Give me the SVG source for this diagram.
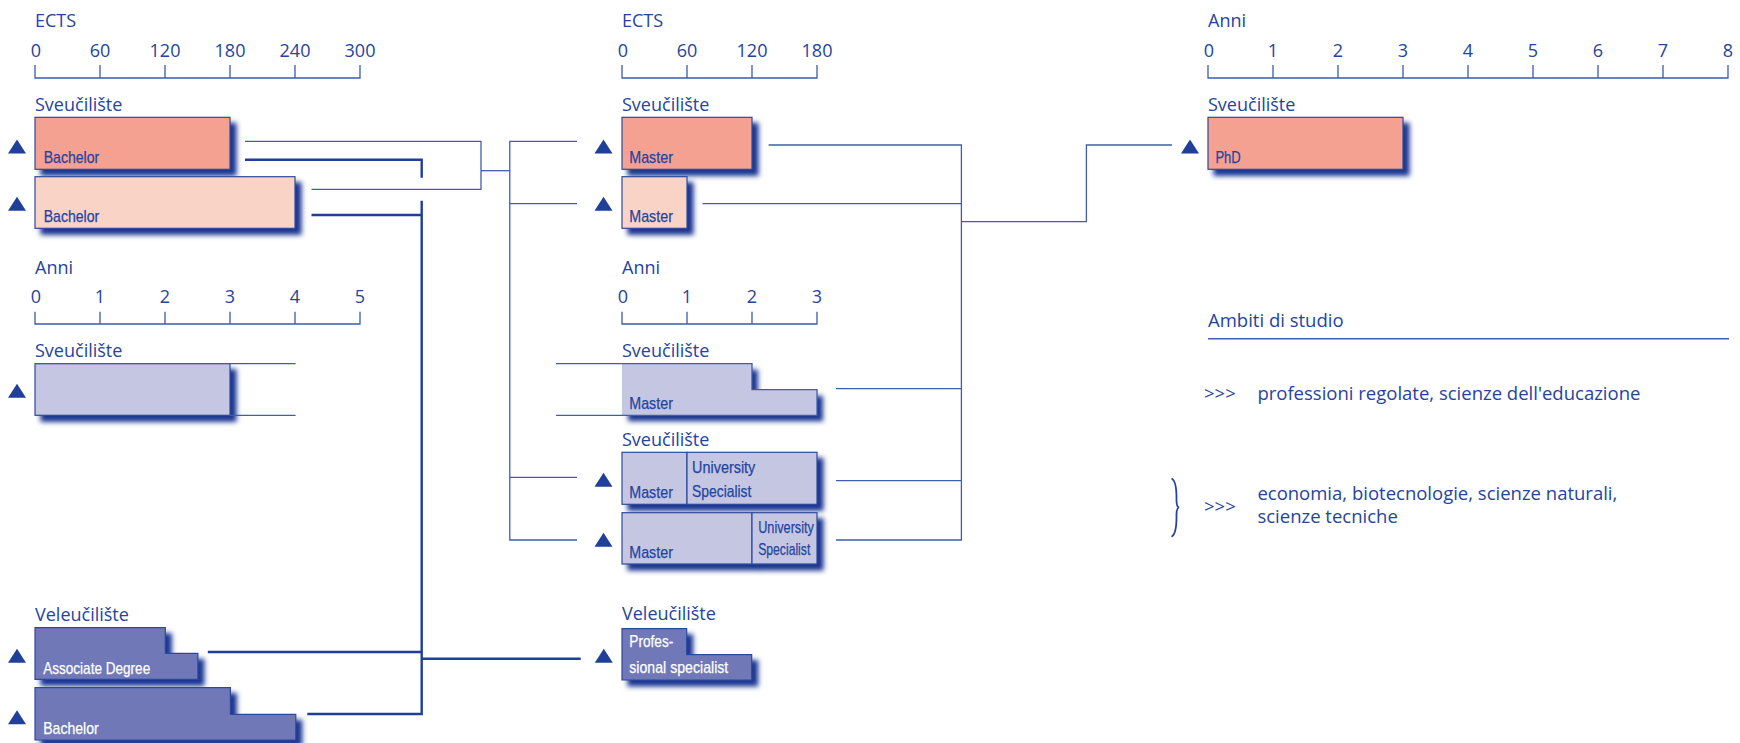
<svg xmlns="http://www.w3.org/2000/svg" width="1740" height="743" viewBox="0 0 1740 743">
<defs>
<style>
.t{font-family:"Open Sans","Liberation Sans",sans-serif;font-size:18px;fill:#2444a0}
.tk{text-anchor:middle}
.lg{font-size:18.5px}
.lb{font-family:"Liberation Sans Narrow","Liberation Sans",sans-serif;font-size:17px;fill:#2444a0;stroke:#2444a0;stroke-width:0.25}
.w{fill:#ffffff;stroke:#ffffff}
.ax{fill:none;stroke:#3a5bb0;stroke-width:1.3}
.bx{stroke:#2c4a9e;stroke-width:1.2}
.s1{fill:#f4a191}
.s2{fill:#f9d3c6}
.s3{fill:#c5c7e2}
.s4{fill:#7078b8}
.thin{fill:none;stroke:#3d5db0;stroke-width:1.3}
.thick{fill:none;stroke:#1f3f9a;stroke-width:2.4}
.tri{fill:#1f3f9a}
</style>
<filter id="sh" x="-10%" y="-20%" width="130%" height="150%">
<feOffset in="SourceAlpha" dx="6" dy="6" result="o"/>
<feGaussianBlur in="o" stdDeviation="2.5" result="b"/>
<feFlood flood-color="#1a3590"/>
<feComposite in2="b" operator="in" result="s"/>
<feMerge><feMergeNode in="s"/><feMergeNode in="SourceGraphic"/></feMerge>
</filter>
<path id="tr" d="M0 -0.5 L9 13.5 L-9 13.5 Z"/>
</defs>
<rect width="1740" height="743" fill="#ffffff"/>

<g id="axes">
<text class="t" x="35" y="27.3">ECTS</text>
<g class="t tk">
<text x="36" y="56.7">0</text><text x="100" y="56.7">60</text><text x="165" y="56.7">120</text><text x="230" y="56.7">180</text><text x="295" y="56.7">240</text><text x="360" y="56.7">300</text>
</g>
<path class="ax" d="M35 65V78H360V65M100 65V78M165 65V78M230 65V78M295 65V78"/>
<text class="t" x="35" y="274.3">Anni</text>
<g class="t tk">
<text x="36" y="302.7">0</text><text x="100" y="302.7">1</text><text x="165" y="302.7">2</text><text x="230" y="302.7">3</text><text x="295" y="302.7">4</text><text x="360" y="302.7">5</text>
</g>
<path class="ax" d="M35 311.7V324H360V311.7M100 311.7V324M165 311.7V324M230 311.7V324M295 311.7V324"/>
<text class="t" x="622" y="27.3">ECTS</text>
<g class="t tk">
<text x="623" y="56.7">0</text><text x="687" y="56.7">60</text><text x="752" y="56.7">120</text><text x="817" y="56.7">180</text>
</g>
<path class="ax" d="M622 65V78H817V65M687 65V78M752 65V78"/>
<text class="t" x="622" y="274.3">Anni</text>
<g class="t tk">
<text x="623" y="302.7">0</text><text x="687" y="302.7">1</text><text x="752" y="302.7">2</text><text x="817" y="302.7">3</text>
</g>
<path class="ax" d="M622 311.7V324H817V311.7M687 311.7V324M752 311.7V324"/>
<text class="t" x="1208" y="27.3">Anni</text>
<g class="t tk">
<text x="1209" y="56.7">0</text><text x="1273" y="56.7">1</text><text x="1338" y="56.7">2</text><text x="1403" y="56.7">3</text><text x="1468" y="56.7">4</text><text x="1533" y="56.7">5</text><text x="1598" y="56.7">6</text><text x="1663" y="56.7">7</text><text x="1728" y="56.7">8</text>
</g>
<path class="ax" d="M1208 65V78H1728V65M1273 65V78M1338 65V78M1403 65V78M1468 65V78M1533 65V78M1598 65V78M1663 65V78"/>
</g>

<g id="connectors">
<path class="thin" d="M245 141.3H481V189.3H311.5"/>
<path class="thin" d="M481 170.7H509.8"/>
<path class="thin" d="M577 141.3H509.8V540H577"/>
<path class="thin" d="M509.8 203.7H577"/>
<path class="thin" d="M509.8 477.3H577"/>
<path class="thin" d="M768.6 145H961.4V540H836"/>
<path class="thin" d="M702.5 203.7H961.4"/>
<path class="thin" d="M836 388.7H961.4"/>
<path class="thin" d="M836 480.7H961.4"/>
<path class="thin" d="M961.4 221.7H1086.4V145H1172"/>
<path class="thick" d="M245 159.7H421.7V177.7"/>
<path class="thick" d="M311.5 215H421.7"/>
<path class="thick" d="M421.7 200.7V714H307.3"/>
<path class="thick" d="M207.8 652H421.7"/>
<path class="thick" d="M421.7 658.7H580.7"/>
</g>

<g id="sv-bachelor-180">
<text class="t" x="35" y="111">Sveučilište</text>
<use href="#tr" class="tri" x="17" y="140"/>
<rect class="bx s1" x="35" y="117.3" width="195" height="52" filter="url(#sh)"/>
<text class="lb" x="43.7" y="162.7" textLength="55.5" lengthAdjust="spacingAndGlyphs">Bachelor</text>
</g>
<g id="sv-bachelor-240">
<use href="#tr" class="tri" x="17" y="197.3"/>
<rect class="bx s2" x="35" y="176.7" width="260" height="51.6" filter="url(#sh)"/>
<text class="lb" x="43.7" y="221.7" textLength="55.5" lengthAdjust="spacingAndGlyphs">Bachelor</text>
</g>
<g id="sv-integrated">
<text class="t" x="35" y="357.3">Sveučilište</text>
<use href="#tr" class="tri" x="17" y="384.3"/>
<rect class="bx s3" x="35" y="363.7" width="195" height="51.6" filter="url(#sh)"/>
<path class="thin" d="M230 363.7H295.6M230 415.3H295.6"/>
</g>
<g id="vel-associate">
<text class="t" x="35" y="620.7">Veleučilište</text>
<use href="#tr" class="tri" x="17" y="649.3"/>
<path class="bx s4" d="M35 627.7H165.3V653.3H197.9V679.3H35Z" filter="url(#sh)"/>
<text class="lb w" x="43.2" y="674" textLength="107" lengthAdjust="spacingAndGlyphs">Associate Degree</text>
</g>
<g id="vel-bachelor">
<use href="#tr" class="tri" x="17" y="710.7"/>
<path class="bx s4" d="M35 687.7H230.4V714.3H295.8V740H35Z" filter="url(#sh)"/>
<text class="lb w" x="43.2" y="734" textLength="55.5" lengthAdjust="spacingAndGlyphs">Bachelor</text>
</g>

<g id="sv-master-120">
<text class="t" x="622" y="111">Sveučilište</text>
<use href="#tr" class="tri" x="603.5" y="140"/>
<rect class="bx s1" x="622" y="117.3" width="130" height="52" filter="url(#sh)"/>
<text class="lb" x="629.3" y="162.7" textLength="43.6" lengthAdjust="spacingAndGlyphs">Master</text>
</g>
<g id="sv-master-60">
<use href="#tr" class="tri" x="603.5" y="197.3"/>
<rect class="bx s2" x="622" y="176.7" width="65" height="51.6" filter="url(#sh)"/>
<text class="lb" x="629.3" y="221.7" textLength="43.6" lengthAdjust="spacingAndGlyphs">Master</text>
</g>
<g id="sv-master-integrated">
<text class="t" x="622" y="357.3">Sveučilište</text>
<path class="s3" d="M622 363.7H752V389.7H817V415.3H622Z" filter="url(#sh)"/>
<path class="thin" d="M556 363.7H752V389.7H817V415.3H556"/>
<text class="lb" x="629.3" y="409.3" textLength="43.6" lengthAdjust="spacingAndGlyphs">Master</text>
</g>
<g id="sv-master-us-1">
<text class="t" x="622" y="445.7">Sveučilište</text>
<use href="#tr" class="tri" x="603.5" y="473.3"/>
<g filter="url(#sh)">
<rect class="bx s3" x="622" y="452.3" width="65" height="52"/>
<rect class="bx s3" x="687" y="452.3" width="130" height="52"/>
</g>
<text class="lb" x="629.3" y="498.3" textLength="43.6" lengthAdjust="spacingAndGlyphs">Master</text>
<text class="lb" x="692.1" y="473.3" textLength="63.2" lengthAdjust="spacingAndGlyphs">University</text>
<text class="lb" x="692.1" y="497.3" textLength="59.3" lengthAdjust="spacingAndGlyphs">Specialist</text>
</g>
<g id="sv-master-us-2">
<use href="#tr" class="tri" x="603.5" y="533.3"/>
<g filter="url(#sh)">
<rect class="bx s3" x="622" y="512.7" width="130" height="51.3"/>
<rect class="bx s3" x="752" y="512.7" width="65" height="51.3"/>
</g>
<text class="lb" x="629.3" y="558.3" textLength="43.6" lengthAdjust="spacingAndGlyphs">Master</text>
<text class="lb" x="758.2" y="533.3" font-size="15" textLength="55.7" lengthAdjust="spacingAndGlyphs">University</text>
<text class="lb" x="758.2" y="555" font-size="15" textLength="52.1" lengthAdjust="spacingAndGlyphs">Specialist</text>
</g>
<g id="vel-professional-specialist">
<text class="t" x="622" y="620">Veleučilište</text>
<use href="#tr" class="tri" x="603.8" y="649.3"/>
<path class="bx s4" d="M622 628.7H686.7V654.7H751.7V680H622Z" filter="url(#sh)"/>
<text class="lb w" x="629.3" y="646.7" textLength="44" lengthAdjust="spacingAndGlyphs">Profes-</text>
<text class="lb w" x="629.3" y="672.7" textLength="99" lengthAdjust="spacingAndGlyphs">sional specialist</text>
</g>

<g id="sv-phd">
<text class="t" x="1208" y="111">Sveučilište</text>
<use href="#tr" class="tri" x="1190" y="140"/>
<rect class="bx s1" x="1208" y="117.3" width="195" height="52" filter="url(#sh)"/>
<text class="lb" x="1215.4" y="162.7" textLength="25.4" lengthAdjust="spacingAndGlyphs">PhD</text>
</g>

<g id="legend">
<text class="t lg" x="1208" y="326.7">Ambiti di studio</text>
<path d="M1208 338.7H1729" stroke="#3d62b8" stroke-width="1.6"/>
<text class="t lg" x="1204" y="400">&gt;&gt;&gt;</text>
<text class="t lg" x="1257.4" y="400">professioni regolate, scienze dell'educazione</text>
<path d="M1171.5 478.5C1177 481 1176.5 494 1176.5 500C1176.5 505 1177 507 1179 507.5C1177 508 1176.5 510 1176.5 515C1176.5 521 1177 534 1171.5 536.7" fill="none" stroke="#2444a0" stroke-width="1.8"/>
<text class="t lg" x="1204" y="513.3">&gt;&gt;&gt;</text>
<text class="t lg" x="1257.4" y="500">economia, biotecnologie, scienze naturali,</text>
<text class="t lg" x="1257.4" y="523.3">scienze tecniche</text>
</g>
</svg>
